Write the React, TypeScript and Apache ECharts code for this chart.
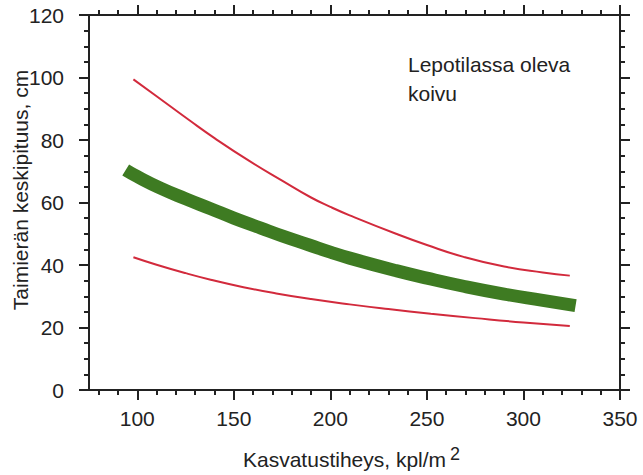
import React, { useEffect, useRef } from 'react';
import * as echarts from 'echarts';

// Upper red curve
const upperX = [98, 110, 127, 140, 158, 175, 190, 200, 210, 234, 250, 269, 290, 310, 324];
const upperY = [99.4, 94, 86.3, 80.6, 73.3, 67.0, 61.6, 58.6, 55.9, 50.0, 46.4, 42.6, 39.5, 37.6, 36.6];

// Green band (centre line)
const greenX = [94, 100, 112, 125, 138, 150, 164, 175, 189, 200, 210, 234, 250, 269, 290, 310, 327];
const greenY = [70.4, 68.3, 64.6, 61.2, 58.0, 55.0, 51.8, 49.3, 46.4, 44.1, 42.2, 38.2, 35.8, 33.2, 30.7, 28.7, 27.0];

// Lower red curve
const lowerX = [98, 110, 125, 138, 155, 172, 190, 210, 230, 252, 275, 300, 324];
const lowerY = [42.5, 40.1, 37.4, 35.3, 32.9, 30.9, 29.1, 27.4, 25.9, 24.4, 23.0, 21.6, 20.5];

// Axis ticks
const xMajorTicks = [100, 150, 200, 250, 300, 350];
const xMinorTicks = [80, 90, 110, 120, 130, 140, 160, 170, 180, 190, 210, 220, 230, 240, 260, 270, 280, 290, 310, 320, 330, 340];

const xAxisTitle = 'Kasvatustiheys, kpl/m';
const xAxisTitleSup = '2';
const yAxisTitle = 'Taimierän keskipituus, cm';
const noteLines = ['Lepotilassa oleva', 'koivu'];

const FONT = "'Liberation Sans', Arial, Helvetica, sans-serif";
const AXIS = '#222222';
const RED = '#d22a3c';
const GREEN = '#3e7b22';

const zip = (xs: number[], ys: number[]) => xs.map((x, i) => [x, ys[i]]);

export default function App() {
  const ref = useRef<HTMLDivElement>(null);
  useEffect(() => {
    if (!ref.current) return;
    const chart = echarts.init(ref.current, null, { renderer: 'svg' });
    const lineStyle = { color: AXIS, width: 2 };
    const majorX = (pos: 'top' | 'bottom', labels: boolean) => ({
      type: 'value',
      position: pos,
      gridIndex: 0,
      min: 75,
      max: 350,
      axisLine: { show: true, onZero: false, lineStyle },
      axisTick: { show: true, customValues: xMajorTicks, length: 10, lineStyle },
      axisLabel: {
        show: labels,
        customValues: xMajorTicks,
        margin: 18,
        color: AXIS,
        fontSize: 21,
        fontFamily: FONT,
      },
      splitLine: { show: false },
    });
    const minorX = (pos: 'top' | 'bottom') => ({
      type: 'value',
      position: pos,
      gridIndex: 0,
      min: 75,
      max: 350,
      axisLine: { show: false, onZero: false },
      axisTick: { show: true, customValues: xMinorTicks, length: 5, lineStyle },
      axisLabel: { show: false },
      splitLine: { show: false },
    });
    const yAx = (pos: 'left' | 'right', labels: boolean) => ({
      type: 'value',
      position: pos,
      min: 0,
      max: 120,
      interval: 20,
      axisLine: { show: true, onZero: false, lineStyle },
      axisTick: { show: true, length: 10, lineStyle },
      minorTick: { show: true, splitNumber: 4, length: 5, lineStyle },
      axisLabel: {
        show: labels,
        margin: 25,
        color: AXIS,
        fontSize: 21,
        fontFamily: FONT,
      },
      splitLine: { show: false },
    });

    chart.setOption({
      animation: false,
      backgroundColor: '#ffffff',
      grid: { left: 89, right: 23, top: 15, bottom: 85, containLabel: false },
      xAxis: [majorX('bottom', true), minorX('bottom'), majorX('top', false), minorX('top')],
      yAxis: [yAx('left', true), yAx('right', false)],
      series: [
        {
          type: 'line',
          xAxisIndex: 0,
          yAxisIndex: 0,
          data: zip(upperX, upperY),
          showSymbol: false,
          smooth: 0.5,
          lineStyle: { color: RED, width: 2 },
        },
        {
          type: 'line',
          xAxisIndex: 0,
          yAxisIndex: 0,
          data: zip(greenX, greenY),
          showSymbol: false,
          smooth: 0.5,
          lineStyle: { color: GREEN, width: 13, cap: 'butt' },
        },
        {
          type: 'line',
          xAxisIndex: 0,
          yAxisIndex: 0,
          data: zip(lowerX, lowerY),
          showSymbol: false,
          smooth: 0.5,
          lineStyle: { color: RED, width: 2 },
        },
      ],
      graphic: [
        {
          type: 'text',
          left: 408,
          top: 50,
          style: {
            text: noteLines.join('\n'),
            fontSize: 21,
            lineHeight: 29,
            fontFamily: FONT,
            fill: AXIS,
          },
        },
        {
          type: 'text',
          x: 20,
          y: 190,
          rotation: Math.PI / 2,
          style: {
            text: yAxisTitle,
            fontSize: 21,
            fontFamily: FONT,
            fill: AXIS,
            align: 'center',
            verticalAlign: 'middle',
          },
        },
        {
          type: 'text',
          left: 243,
          top: 445,
          style: {
            text: `{a|${xAxisTitle}}{s|${xAxisTitleSup}}`,
            fontFamily: FONT,
            fill: AXIS,
            rich: {
              a: { fontSize: 21, fontFamily: FONT, fill: AXIS, color: AXIS },
              s: { fontSize: 18, fontFamily: FONT, fill: AXIS, color: AXIS, padding: [0, 0, 10, 4] },
            },
          },
        },
      ],
    });
    return () => chart.dispose();
  }, []);
  return (
    <div
      ref={ref}
      style={{ position: 'fixed', left: 0, top: 0, width: 643, height: 475, background: '#fff' }}
    />
  );
}
